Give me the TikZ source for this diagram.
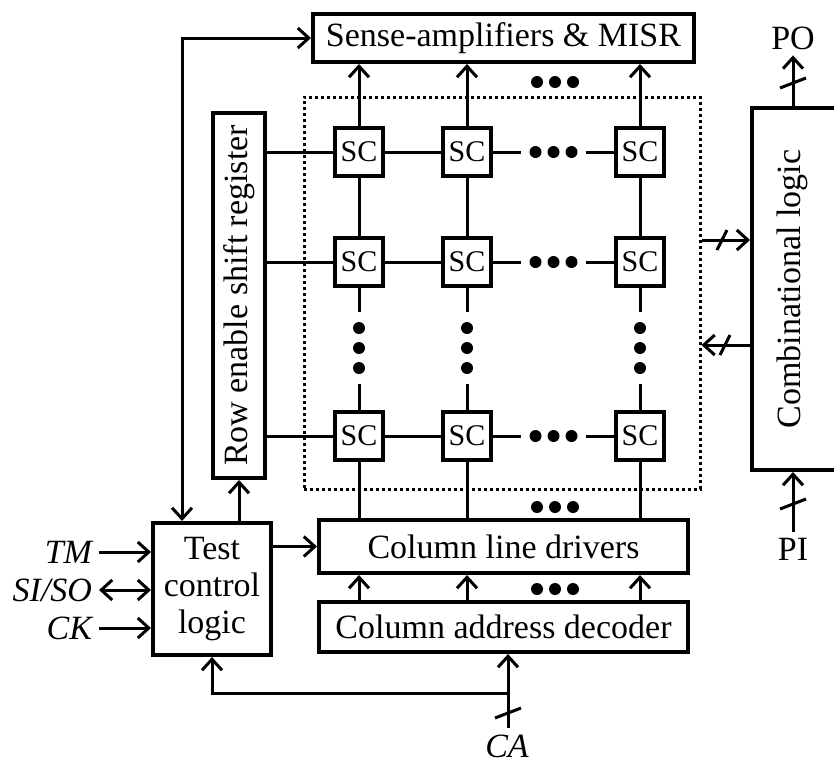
\documentclass[tikz,border=0pt]{standalone}
\usepackage{fontspec}
\setmainfont{Liberation Serif}
\usetikzlibrary{arrows.meta,calc}
\newcommand\bigf{\fontsize{34}{37}\selectfont}
\newcommand\scf{\fontsize{30}{30}\selectfont}
\begin{document}
\begin{tikzpicture}[x=1pt,y=-1pt,
  box/.style={draw,line width=4pt,rectangle,inner sep=0pt,align=center,font=\bigf},
  scbox/.style={draw,line width=4pt,rectangle,minimum width=48pt,minimum height=48pt,inner sep=0pt,font=\scf},
  wire/.style={line width=3pt},
  arr/.style={wire,-{Straight Barb[length=11pt,width=20pt,line width=3pt]}},
  dblarr/.style={wire,{Straight Barb[length=11pt,width=20pt,line width=3pt]}-{Straight Barb[length=11pt,width=20pt,line width=3pt]}},
  lbl/.style={font=\bigf,inner sep=0pt,outer sep=6pt},
  ilbl/.style={font=\bigf\itshape,inner sep=0pt,outer sep=7pt},
  dotbox/.style={draw,line width=3pt,dash pattern=on 3pt off 3pt,inner sep=0pt},
  dot/.style={fill=black}
]
\clip (0,0) rectangle (834,764);
\fill[white] (0,0) rectangle (834,764);

% main boxes
\node[box,minimum width=381pt,minimum height=48pt] (sense) at (503.5,38) {Sense-amplifiers \& MISR};
\node[dotbox,minimum width=396pt,minimum height=392pt] (array) at (502,293) {};
\node[box,minimum width=52pt,minimum height=365pt] (rowen) at (239,295.5) {};
\node[rotate=90,font=\bigf,inner sep=0pt] (rowtxt) at (rowen.center) {Row enable shift register};
\node[box,minimum width=88pt,minimum height=362pt] (comb) at (796,289) {};
\node[rotate=90,font=\bigf,inner sep=0pt] (combtxt) at (792,289) {Combinational logic};
\node[box,minimum width=118pt,minimum height=132pt] (test) at (212,589) {Test\\control\\logic};
\node[box,minimum width=369pt,minimum height=53pt] (drv) at (503.5,546.5) {Column line drivers};
\node[box,minimum width=369pt,minimum height=50pt] (dec) at (503.5,627) {Column address decoder};

% SC cells
\foreach \c/\x in {1/359,2/467,3/640}{
  \foreach \r/\y in {1/152,2/262,3/436}{
    \node[scbox] (sc\r\c) at (\x,\y) {SC};
  }
}

% row lines
\foreach \r in {1,2,3}{
  \draw[wire] (rowen.east |- sc\r1) -- (sc\r1.west);
  \draw[wire] (sc\r1.east) -- (sc\r2.west);
  \coordinate (ra\r) at ($(sc\r2.east)+(28,0)$);
  \coordinate (rb\r) at ($(sc\r3.west)+(-28,0)$);
  \coordinate (rm\r) at ($(sc\r2.east)!0.5!(sc\r3.west)$);
  \draw[wire] (sc\r2.east) -- (ra\r);
  \draw[wire] (rb\r) -- (sc\r3.west);
  \fill[dot] ($(rm\r)+(-18,0)$) circle (6pt) (rm\r) circle (6pt) ($(rm\r)+(18,0)$) circle (6pt);
}

% column lines
\foreach \c in {1,2,3}{
  \draw[arr] (sc1\c.north) -- (sc1\c.north |- sense.south);
  \draw[wire] (sc1\c.south) -- (sc2\c.north);
  \coordinate (ca\c) at ($(sc2\c.south)+(0,24)$);
  \coordinate (cb\c) at ($(sc3\c.north)+(0,-26)$);
  \coordinate (cm\c) at ($(ca\c)!0.5!(cb\c)$);
  \draw[wire] (sc2\c.south) -- (ca\c);
  \draw[wire] (cb\c) -- (sc3\c.north);
  \fill[dot] ($(cm\c)+(0,-20)$) circle (6pt) (cm\c) circle (6pt) ($(cm\c)+(0,20)$) circle (6pt);
  \draw[wire] (sc3\c.south) -- (sc3\c.south |- drv.north);
  \draw[arr] (dec.north -| sc1\c) -- (drv.south -| sc1\c);
}

% horizontal ellipses between columns 2 and 3
\foreach \y in {82,507,589}{
  \fill[dot] (537,\y) circle (6pt) (555,\y) circle (6pt) (573,\y) circle (6pt);
}

% test control connections
\coordinate (lp) at (182,38);
\draw[dblarr] (test.north -| lp) -- (lp) -- (sense.west);
\draw[arr] (test.north -| rowen) -- (rowen.south);
\draw[arr] (test.east |- drv.west) -- (drv.west);

% inputs
\node[ilbl,anchor=east] (tm) at (99,552) {TM};
\node[ilbl,anchor=east] (siso) at (99,590) {SI/SO};
\node[ilbl,anchor=east] (ck) at (99,628) {CK};
\draw[arr] (tm.east) -- (tm.east -| test.west);
\draw[dblarr] (siso.east) -- (siso.east -| test.west);
\draw[arr] (ck.east) -- (ck.east -| test.west);

% CA bus
\node[ilbl] (ca) at (507,746) {CA};
\coordinate (cj) at (508,693);
\coordinate (cs) at (508,713);
\draw[arr] (ca.north -| cj) -- (cj |- dec.south);
\draw[arr] (cj) -- (cj -| test.south) -- (test.south);
\draw[wire] ($(cs)+(-13,5)$) -- ($(cs)+(13,-5)$);

% PO / PI
\node[lbl] (po) at (793,38) {PO};
\node[lbl] (pi) at (793,549) {PI};
\coordinate (pos) at (793,83);
\coordinate (pis) at (793,504);
\draw[arr] (pos |- comb.north) -- (pos |- po.south);
\draw[arr] (pis |- pi.north) -- (pis |- comb.south);
\draw[wire] ($(pos)+(-13,5)$) -- ($(pos)+(13,-5)$);
\draw[wire] ($(pis)+(-13,5)$) -- ($(pis)+(13,-5)$);

% buses between array and combinational logic
\coordinate (b1) at (array.east |- 0,240);
\coordinate (b2) at (array.east |- 0,345);
\coordinate (b1s) at (722,240);
\coordinate (b2s) at (725,345);
\draw[arr] (b1) -- (b1 -| comb.west);
\draw[arr] (b2 -| comb.west) -- (b2);
\draw[wire] ($(b1s)+(-5,10)$) -- ($(b1s)+(5,-10)$);
\draw[wire] ($(b2s)+(-5,10)$) -- ($(b2s)+(5,-10)$);
\end{tikzpicture}
\end{document}
